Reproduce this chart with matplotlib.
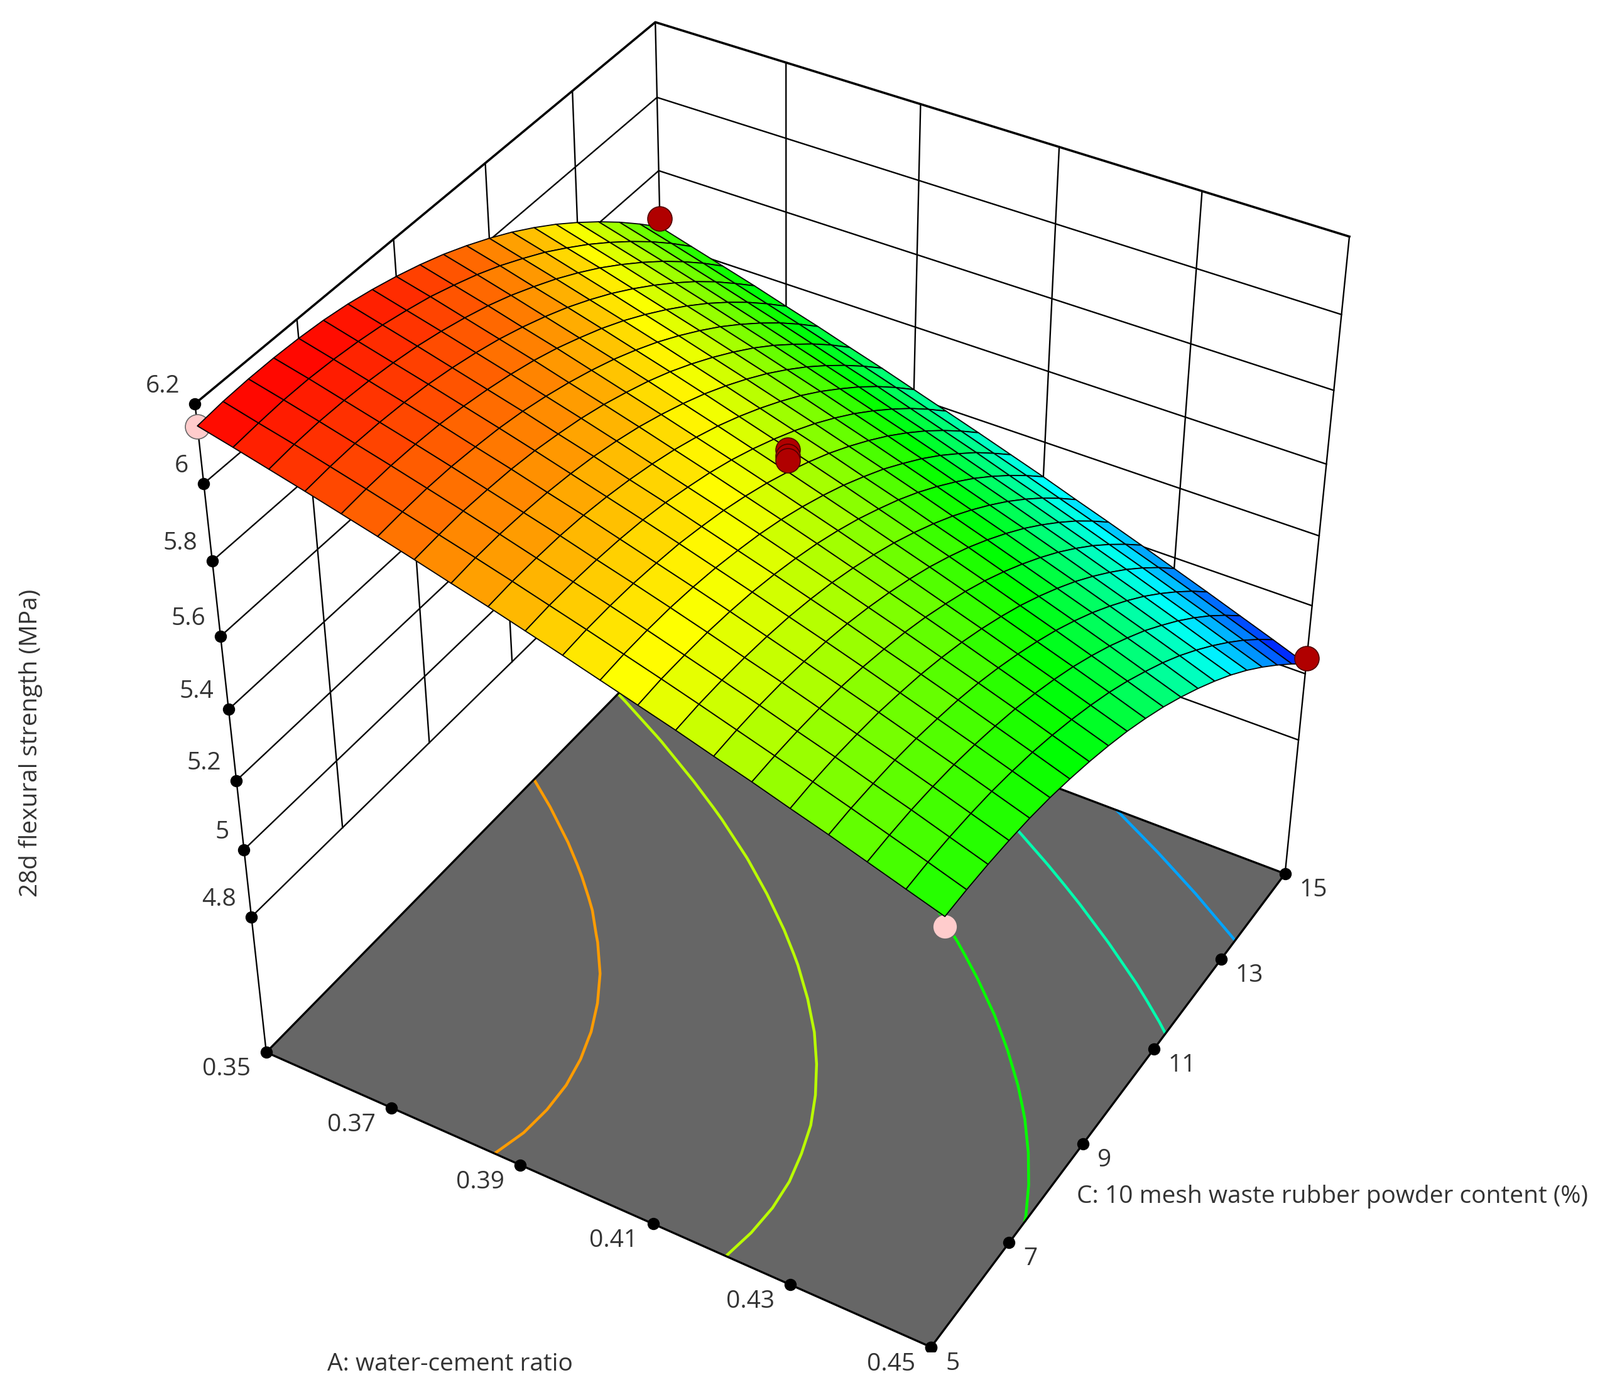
import numpy as np
import matplotlib
matplotlib.use("Agg")
import matplotlib.pyplot as plt
from matplotlib.colors import LinearSegmentedColormap, Normalize
from mpl_toolkits.mplot3d import proj3d

plt.rcParams["font.family"] = ["Open Sans", "DejaVu Sans"]

W, H = 2547, 2224
FLOOR = 4.38

a_ticks = [0.35, 0.37, 0.39, 0.41, 0.43, 0.45]
a_labels = ["0.35", "0.37", "0.39", "0.41", "0.43", "0.45"]
c_ticks = [5, 7, 9, 11, 13, 15]
c_labels = ["5", "7", "9", "11", "13", "15"]
z_ticks = [4.8, 5.0, 5.2, 5.4, 5.6, 5.8, 6.0, 6.2]
z_labels = ["4.8", "5", "5.2", "5.4", "5.6", "5.8", "6", "6.2"]
levels = [5.21, 5.40, 5.60, 5.795, 5.98]

a_grid = [0.35, 0.355, 0.36, 0.365, 0.37, 0.375, 0.38, 0.385, 0.39, 0.395, 0.40,
          0.405, 0.41, 0.415, 0.42, 0.425, 0.43, 0.435, 0.44, 0.445, 0.45]
c_grid = [5, 5.5, 6, 6.5, 7, 7.5, 8, 8.5, 9, 9.5, 10,
          10.5, 11, 11.5, 12, 12.5, 13, 13.5, 14, 14.5, 15]

# strength, one row per C value, columns follow a_grid
z_table = [
    [6.145, 6.124, 6.102, 6.080, 6.057, 6.034, 6.010, 5.985, 5.961, 5.935, 5.909, 5.882, 5.855, 5.828, 5.799, 5.771, 5.741, 5.712, 5.681, 5.650, 5.619],
    [6.152, 6.130, 6.109, 6.086, 6.063, 6.039, 6.015, 5.991, 5.966, 5.940, 5.914, 5.887, 5.860, 5.832, 5.803, 5.774, 5.745, 5.715, 5.684, 5.653, 5.621],
    [6.155, 6.134, 6.112, 6.089, 6.066, 6.042, 6.018, 5.993, 5.967, 5.941, 5.915, 5.888, 5.860, 5.832, 5.804, 5.774, 5.745, 5.714, 5.684, 5.652, 5.620],
    [6.155, 6.134, 6.111, 6.088, 6.065, 6.041, 6.016, 5.991, 5.966, 5.939, 5.913, 5.886, 5.858, 5.829, 5.801, 5.771, 5.741, 5.711, 5.680, 5.648, 5.616],
    [6.152, 6.130, 6.107, 6.084, 6.061, 6.036, 6.012, 5.986, 5.961, 5.934, 5.907, 5.880, 5.852, 5.823, 5.794, 5.765, 5.735, 5.704, 5.673, 5.641, 5.609],
    [6.146, 6.123, 6.100, 6.077, 6.053, 6.029, 6.004, 5.978, 5.952, 5.926, 5.899, 5.871, 5.843, 5.814, 5.785, 5.755, 5.724, 5.693, 5.662, 5.630, 5.598],
    [6.136, 6.113, 6.090, 6.066, 6.042, 6.018, 5.992, 5.967, 5.940, 5.914, 5.886, 5.858, 5.830, 5.801, 5.772, 5.741, 5.711, 5.680, 5.648, 5.616, 5.583],
    [6.122, 6.099, 6.076, 6.052, 6.028, 6.003, 5.978, 5.952, 5.925, 5.898, 5.871, 5.843, 5.814, 5.785, 5.755, 5.725, 5.694, 5.663, 5.631, 5.598, 5.565],
    [6.105, 6.083, 6.059, 6.035, 6.011, 5.985, 5.960, 5.934, 5.907, 5.880, 5.852, 5.824, 5.795, 5.765, 5.735, 5.705, 5.674, 5.642, 5.610, 5.577, 5.544],
    [6.085, 6.062, 6.039, 6.014, 5.990, 5.964, 5.938, 5.912, 5.885, 5.858, 5.830, 5.801, 5.772, 5.742, 5.712, 5.681, 5.650, 5.618, 5.586, 5.553, 5.520],
    [6.062, 6.039, 6.015, 5.990, 5.965, 5.940, 5.914, 5.887, 5.860, 5.832, 5.804, 5.775, 5.746, 5.716, 5.686, 5.655, 5.623, 5.591, 5.559, 5.526, 5.492],
    [6.035, 6.012, 5.987, 5.963, 5.938, 5.912, 5.886, 5.859, 5.831, 5.803, 5.775, 5.746, 5.716, 5.686, 5.656, 5.625, 5.593, 5.561, 5.528, 5.495, 5.461],
    [6.005, 5.981, 5.957, 5.932, 5.907, 5.881, 5.854, 5.827, 5.799, 5.771, 5.743, 5.713, 5.684, 5.653, 5.623, 5.591, 5.559, 5.527, 5.494, 5.460, 5.426],
    [5.972, 5.948, 5.923, 5.898, 5.872, 5.846, 5.819, 5.792, 5.764, 5.736, 5.707, 5.678, 5.648, 5.617, 5.586, 5.554, 5.522, 5.490, 5.456, 5.423, 5.388],
    [5.935, 5.910, 5.886, 5.860, 5.834, 5.808, 5.781, 5.754, 5.726, 5.697, 5.668, 5.638, 5.608, 5.577, 5.546, 5.514, 5.482, 5.449, 5.416, 5.382, 5.347],
    [5.895, 5.870, 5.845, 5.819, 5.793, 5.767, 5.740, 5.712, 5.684, 5.655, 5.626, 5.596, 5.565, 5.534, 5.503, 5.471, 5.438, 5.405, 5.371, 5.337, 5.303],
    [5.851, 5.826, 5.801, 5.775, 5.749, 5.722, 5.695, 5.667, 5.638, 5.609, 5.580, 5.550, 5.519, 5.488, 5.456, 5.424, 5.391, 5.358, 5.324, 5.289, 5.255],
    [5.804, 5.779, 5.754, 5.728, 5.701, 5.674, 5.646, 5.618, 5.590, 5.560, 5.531, 5.500, 5.469, 5.438, 5.406, 5.374, 5.341, 5.307, 5.273, 5.238, 5.203],
    [5.754, 5.729, 5.703, 5.677, 5.650, 5.623, 5.595, 5.566, 5.538, 5.508, 5.478, 5.448, 5.416, 5.385, 5.353, 5.320, 5.287, 5.253, 5.219, 5.184, 5.148],
    [5.700, 5.675, 5.649, 5.622, 5.595, 5.568, 5.540, 5.511, 5.482, 5.452, 5.422, 5.391, 5.360, 5.328, 5.296, 5.263, 5.230, 5.196, 5.161, 5.126, 5.090],
    [5.643, 5.617, 5.591, 5.565, 5.537, 5.510, 5.481, 5.453, 5.423, 5.393, 5.363, 5.332, 5.301, 5.268, 5.236, 5.203, 5.169, 5.135, 5.100, 5.065, 5.029],
]

pink_a = [0.35, 0.45]
pink_c = [5, 5]
pink_z = [6.143, 5.593]
red_a = [0.35, 0.45, 0.40, 0.40, 0.40]
red_c = [15, 15, 10, 10, 10]
red_z = [5.666, 5.046, 5.862, 5.846, 5.835]

A, C = np.meshgrid(a_grid, c_grid)
Z = np.array(z_table)

fig = plt.figure(figsize=(W/100, H/100), dpi=100)
ax = fig.add_axes([0.05987, 0.03257, 0.84241, 0.96475], projection="3d", computed_zorder=False)
ax.set_xlim(.35, .45)
ax.set_ylim(5, 15)
ax.set_zlim(FLOOR, 6.2)
ax.view_init(elev=39.1211, azim=-59.2969, roll=0)
ax.set_proj_type("persp", focal_length=0.5734)
ax.set_box_aspect((1, 1.0006, 1.0463))
ax.set_axis_off()

cmap = LinearSegmentedColormap.from_list("rsm", ["#0000ff", "#00ffff", "#00ff00", "#ffff00", "#ff0000"])
norm = Normalize(Z.min(), Z.max())

# floor
ax.plot_surface(np.array([[.35, .45], [.35, .45]]), np.array([[5, 5], [15, 15]]), np.full((2, 2), FLOOR),
                color="#666666", shade=False, zorder=1)
ax.contour(A, C, Z, levels=levels, zdir="z", offset=FLOOR, colors=[cmap(norm(l)) for l in levels], linewidths=3.2, zorder=2)
for xs, ys in [([.35, .45], [5, 5]), ([.45, .45], [5, 15]), ([.45, .35], [15, 15]), ([.35, .35], [15, 5])]:
    ax.plot(xs, ys, [FLOOR, FLOOR], color="k", lw=2.4, zorder=3)

# walls
for z in z_ticks:
    ax.plot([.35, .35, .45], [5, 15, 15], [z, z, z], color="k", lw=2.6 if z == 6.2 else 1.7, zorder=2)
for c in c_ticks[1:-1]:
    ax.plot([.35, .35], [c, c], [4.8, 6.2], color="k", lw=1.7, zorder=2)
for a in a_ticks[1:-1]:
    ax.plot([a, a], [15, 15], [4.8, 6.2], color="k", lw=1.7, zorder=2)
ax.plot([.35, .35], [15, 15], [4.8, 6.2], color="k", lw=1.7, zorder=2)
ax.plot([.35, .35], [5, 5], [FLOOR, 6.2], color="k", lw=1.7, zorder=3)
ax.plot([.45, .45], [15, 15], [FLOOR, 6.2], color="k", lw=1.7, zorder=2)

# tick dots
dot = dict(marker="o", ls="none", color="k", ms=13, zorder=4)
ax.plot(a_ticks, [5]*6, [FLOOR]*6, **dot)
ax.plot([.45]*6, c_ticks, [FLOOR]*6, **dot)
ax.plot([.35]*8, [5]*8, z_ticks, **dot)

ax.plot(pink_a, pink_c, pink_z, marker="o", ls="none", ms=28, mfc="#ffcccc", mec="#666666", mew=1.2, zorder=4.5)

fc = cmap(norm(.25*(Z[:-1, :-1] + Z[1:, :-1] + Z[:-1, 1:] + Z[1:, 1:])))
ax.plot_surface(A, C, Z, rstride=1, cstride=1, facecolors=fc, edgecolor="k", linewidth=1.3, shade=False, zorder=5)

ax.plot(red_a, red_c, red_z, marker="o", ls="none", ms=28, mfc="#b00000", mec="#500000", mew=1.2, zorder=6)

# tick labels
M = ax.get_proj()
def tick_text(x, y, z, s, dx, dy, ha):
    X, Y, _ = proj3d.proj_transform(x, y, z, M)
    ax.annotate(s, xy=(X, Y), xytext=(dx, dy), textcoords="offset pixels", ha=ha, va="center",
                fontsize=28, color="#333333", annotation_clip=False)

for a, s in zip(a_ticks, a_labels):
    tick_text(a, 5, FLOOR, s, -25, -27, "right")
for c, s in zip(c_ticks, c_labels):
    tick_text(.45, c, FLOOR, s, 23, -26, "left")
for z, s in zip(z_ticks, z_labels):
    tick_text(.35, 5, z, s, -24, 28, "right")

fig.text(49/W, 1-1183/H, "28d flexural strength (MPa)", rotation=90, ha="center", va="center", fontsize=28, color="#333333")
fig.text(716/W, 1-2172/H, "A: water-cement ratio", ha="center", va="center", fontsize=28, color="#333333")
fig.text(2121/W, 1-1905/H, "C: 10 mesh waste rubber powder content (%)", ha="center", va="center", fontsize=28, color="#333333")

fig.savefig("out.png", dpi=100)
